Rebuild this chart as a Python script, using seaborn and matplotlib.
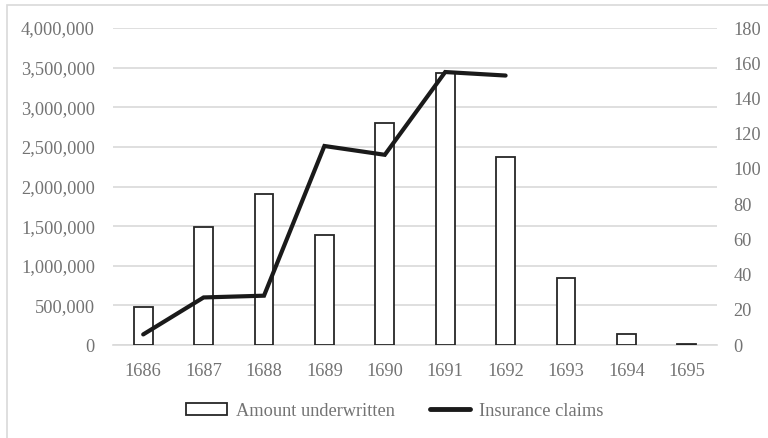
import matplotlib
matplotlib.use("Agg")
import matplotlib.pyplot as plt
import matplotlib.ticker as mticker
from matplotlib.patches import Patch, Rectangle
from matplotlib.lines import Line2D
import numpy as np
import pandas as pd
import seaborn as sns

years = ["1686", "1687", "1688", "1689", "1690", "1691", "1692", "1693", "1694", "1695"]
amount_underwritten = [480000, 1490000, 1900000, 1390000, 2800000, 3430000, 2370000, 850000, 140000, 10000]
claim_years = ["1686", "1687", "1688", "1689", "1690", "1691", "1692"]
insurance_claims = [6, 27, 28, 113, 108, 155, 153]

sns.set_theme(style="white")
plt.rcParams["font.family"] = ["Liberation Serif", "DejaVu Serif"]
TXT = "#737373"
GRID = "#d9d9d9"
FS = 13.2

fig = plt.figure(figsize=(7.68, 4.38), dpi=100)
ax = fig.add_axes([113/768, 1-345/438, (717-113)/768, (345-28)/438])

df = pd.DataFrame({"year": years, "amount": amount_underwritten})
sns.barplot(data=df, x="year", y="amount", color="white", edgecolor="#262626",
            linewidth=1.3, width=0.31, ax=ax, zorder=3, saturation=1)
ax.set_ylim(0, 4000000)
ax.set_xlim(-0.5, len(years)-0.5)
ax.yaxis.set_major_locator(mticker.MultipleLocator(500000))
ax.yaxis.set_major_formatter(mticker.FuncFormatter(lambda v, p: f"{int(v):,}"))
ax.grid(axis="y", color=GRID, linewidth=1.2, zorder=0)
ax.set_axisbelow(True)
for s in ["top", "right", "left"]:
    ax.spines[s].set_visible(False)
ax.spines["bottom"].set_color(GRID)
ax.spines["bottom"].set_linewidth(1.2)
ax.set_xlabel("")
ax.set_ylabel("")
ax.tick_params(axis="both", length=0, labelsize=FS, colors=TXT)
ax.tick_params(axis="y", pad=13)
ax.tick_params(axis="x", pad=13)

ax2 = ax.twinx()
cdf = pd.DataFrame({"pos": [years.index(y) for y in claim_years], "claims": insurance_claims})
sns.lineplot(data=cdf, x="pos", y="claims", color="#1a1a1a", linewidth=3.0, ax=ax2,
             solid_capstyle="round", solid_joinstyle="miter", zorder=4)
ax2.set_ylim(0, 180)
ax2.yaxis.set_major_locator(mticker.MultipleLocator(20))
ax2.set_ylabel("")
for s in ["top", "right", "left", "bottom"]:
    ax2.spines[s].set_visible(False)
ax2.grid(False)
ax2.tick_params(axis="y", length=0, labelsize=FS, colors=TXT, pad=12)

handles = [Patch(facecolor="white", edgecolor="#262626", linewidth=1.3),
           Line2D([0], [0], color="#1a1a1a", linewidth=3.5, solid_capstyle="round")]
leg = fig.legend(handles, ["Amount underwritten", "Insurance claims"], loc="center",
                 bbox_to_anchor=(395/768, 1-411/438), ncol=2, frameon=False,
                 fontsize=FS, handlelength=2.2, handleheight=0.6, columnspacing=1.9,
                 handletextpad=0.5)
for t in leg.get_texts():
    t.set_color(TXT)

fig.patches.append(Rectangle((7/768, -0.05), 1.0, 1-5/438+0.05, transform=fig.transFigure,
                             fill=False, edgecolor=GRID, linewidth=1.2, zorder=-1))

fig.savefig("out.png", dpi=100)
